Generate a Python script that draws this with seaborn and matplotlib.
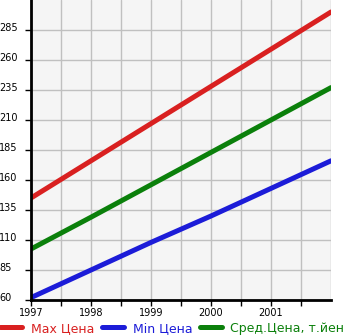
import matplotlib
matplotlib.use("Agg")
import matplotlib.pyplot as plt
import matplotlib.transforms as mtransforms
from matplotlib.ticker import FixedLocator
from matplotlib.lines import Line2D
import seaborn as sns
import pandas as pd

years = [1997, 1998, 1999, 2000, 2001, 2002]
max_price = [145, 176, 207, 238, 269, 300]
min_price = [62, 85, 108, 130, 153, 176]
avg_price = [102.5, 129, 156, 183, 210, 237]
series_names = ["Max Цена", "Min Цена", "Сред.Цена, т.йен"]
colors = ["#d92020", "#1c1cd8", "#0b800b"]
x_tick_labels = ["1997", "1998", "1999", "2000", "2001"]
y_ticks = [60, 85, 110, 135, 160, 185, 210, 235, 260, 285]

rows = []
for name, vals in zip(series_names, [max_price, min_price, avg_price]):
    for y, v in zip(years, vals):
        rows.append({"year": y, "value": v, "series": name})
df = pd.DataFrame(rows)

sns.set_style("white")
plt.rcParams["font.family"] = ["DejaVu Sans"]

fig = plt.figure(figsize=(3.45, 3.35), dpi=100)
ax = fig.add_axes([31 / 345, 35 / 335, 300 / 345, 300 / 335])
ax.set_facecolor("#f5f5f5")

sns.lineplot(data=df, x="year", y="value", hue="series", palette=colors,
             hue_order=series_names, linewidth=3.6, ax=ax, legend=False)

ax.set_xlim(1997, 2002)
ax.set_ylim(60, 310)
ax.set_xticks(years[:-1])
ax.set_xticklabels(x_tick_labels)
ax.xaxis.set_minor_locator(FixedLocator([1997.5, 1998.5, 1999.5, 2000.5, 2001.5]))
ax.set_yticks(y_ticks)
ax.set_yticklabels([str(v) for v in y_ticks])
ax.set_xlabel("")
ax.set_ylabel("")

ax.grid(True, which="both", color="#c0c0c0", linewidth=1.0)
ax.set_axisbelow(True)
ax.axvline(2002, color="#c0c0c0", linewidth=1.0, zorder=0.5)

for s in ["top", "right"]:
    ax.spines[s].set_visible(False)
for s in ["left", "bottom"]:
    ax.spines[s].set_color("black")
    ax.spines[s].set_linewidth(2)

ax.tick_params(axis="both", which="both", direction="out", length=4, width=1,
               color="black", labelcolor="black", labelsize=7, bottom=True, left=True)
ax.tick_params(axis="x", pad=2)
ax.tick_params(axis="y", pad=19)
offset = mtransforms.ScaledTranslation(0, 3 / 100, fig.dpi_scale_trans)
for lbl in ax.get_yticklabels():
    lbl.set_horizontalalignment("left")
    lbl.set_transform(lbl.get_transform() + offset)

handles = [Line2D([0], [0], color=c, linewidth=3.6, solid_capstyle="round") for c in colors]
leg = fig.legend(handles, series_names, loc="lower left", bbox_to_anchor=(-0.006, -0.007),
                 ncol=3, frameon=False, fontsize=9, handlelength=1.75,
                 handletextpad=0.7, columnspacing=0.6, borderpad=0.2,
                 borderaxespad=0.0)
for t, c in zip(leg.get_texts(), colors):
    t.set_color(c)

fig.savefig("out.png", dpi=100)
